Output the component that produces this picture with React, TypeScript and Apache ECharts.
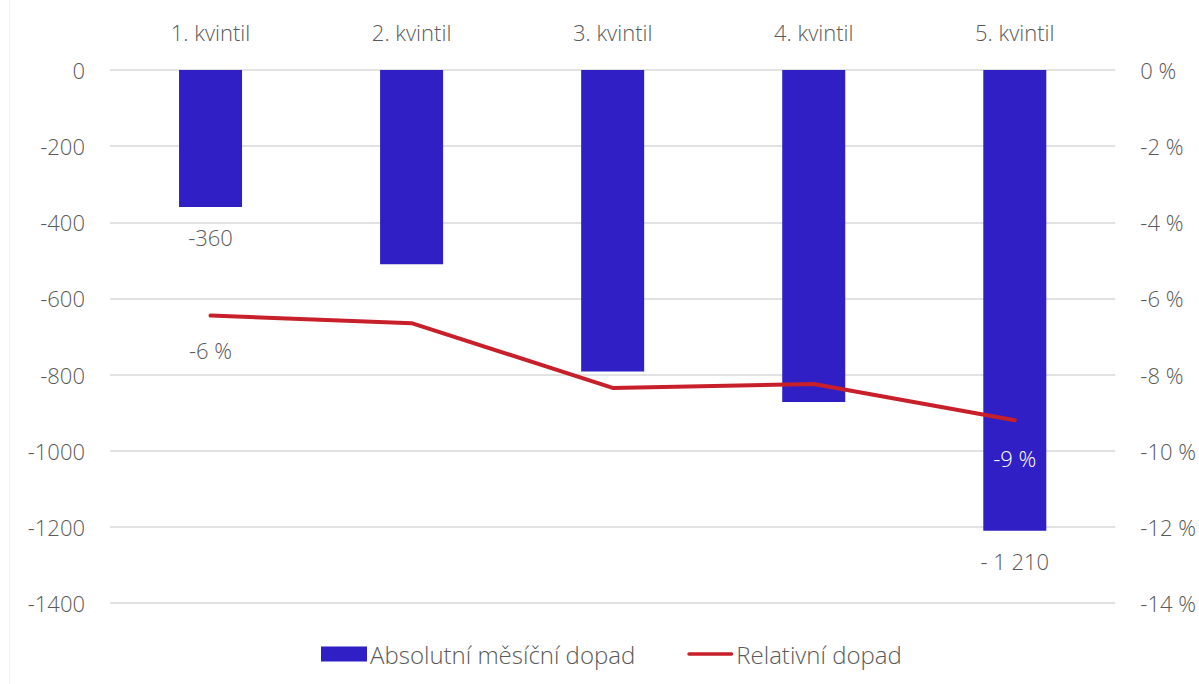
import React, { useEffect, useRef } from "react";
import * as echarts from "echarts";

const categories = ["1. kvintil", "2. kvintil", "3. kvintil", "4. kvintil", "5. kvintil"];
const absoluteValues = [-360, -510, -792, -872, -1210];
const relativeValues = [-6.45, -6.65, -8.35, -8.25, -9.2];
const absoluteLabels = ["-360", "", "", "", "- 1 210"];
const relativeLabels = ["-6 %", "", "", "", "-9 %"];
const seriesNames = ["Absolutní měsíční dopad", "Relativní dopad"];

const FONT = "'Open Sans', sans-serif";
const GRAY = "#5a5a5a";
const FS = 22;

export default function App() {
  const ref = useRef<HTMLDivElement>(null);
  useEffect(() => {
    if (!ref.current) return;
    const chart = echarts.init(ref.current, null, { renderer: "svg" });
    chart.setOption({
      animation: false,
      backgroundColor: "#ffffff",
      textStyle: { fontFamily: FONT, color: GRAY, fontWeight: 300 },
      grid: { left: 110, right: 82, top: 70, bottom: 81 },
      graphic: [
        {
          type: "line",
          shape: { x1: 9.5, y1: 0, x2: 9.5, y2: 684 },
          style: { stroke: "#f0f0f0", lineWidth: 1 },
          silent: true,
        },
      ],
      legend: {
        top: 637,
        left: 316,
        itemWidth: 46,
        itemHeight: 15,
        itemGap: 52,
        textStyle: { fontFamily: FONT, fontSize: 24, fontWeight: 300, color: GRAY, padding: [0, 0, 0, -2] },
        data: [
          { name: seriesNames[0], icon: "rect" },
          { name: seriesNames[1], icon: "path://M2,0 H50 A2,2 0 0 1 50,4 H2 A2,2 0 0 1 2,0 Z" },
        ],
      },
      xAxis: {
        type: "category",
        position: "top",
        data: categories,
        axisLine: { show: false },
        axisTick: { show: false },
        axisLabel: { fontSize: FS, fontWeight: 300, color: GRAY, margin: 27, fontFamily: FONT },
      },
      yAxis: [
        {
          type: "value",
          min: -1400,
          max: 0,
          interval: 200,
          axisLine: { show: false },
          axisTick: { show: false },
          splitLine: { lineStyle: { color: "#d9d9d9", width: 1.5 } },
          axisLabel: {
            fontSize: FS,
            fontWeight: 300,
            color: GRAY,
            margin: 25,
            fontFamily: FONT,
            formatter: (v: number) => String(v),
          },
        },
        {
          type: "value",
          min: -14,
          max: 0,
          interval: 2,
          axisLine: { show: false },
          axisTick: { show: false },
          splitLine: { show: false },
          axisLabel: {
            fontSize: FS,
            fontWeight: 300,
            color: GRAY,
            margin: 25,
            fontFamily: FONT,
            formatter: (v: number) => `${v} %`,
          },
        },
      ],
      series: [
        {
          name: seriesNames[0],
          type: "bar",
          barWidth: 63,
          itemStyle: { color: "#2f1fc4" },
          data: absoluteValues.map((v, i) => ({
            value: v,
            label: {
              show: absoluteLabels[i] !== "",
              position: "bottom",
              distance: 19,
              formatter: absoluteLabels[i],
              fontSize: FS,
              fontWeight: 300,
              color: GRAY,
              fontFamily: FONT,
            },
          })),
        },
        {
          name: seriesNames[1],
          type: "line",
          yAxisIndex: 1,
          symbol: "circle",
          symbolSize: 1,
          showSymbol: true,
          lineStyle: { color: "#c8202a", width: 4, cap: "round" },
          itemStyle: { color: "#c8202a" },
          data: relativeValues.map((v, i) => ({
            value: v,
            label: {
              show: relativeLabels[i] !== "",
              position: "bottom",
              distance: i === 4 ? 26 : 23,
              formatter: relativeLabels[i],
              fontSize: FS,
              fontWeight: 300,
              color: i === 4 ? "#ffffff" : GRAY,
              fontFamily: FONT,
            },
          })),
        },
      ],
    });
    return () => chart.dispose();
  }, []);
  return (
    <div
      ref={ref}
      style={{ position: "fixed", left: 0, top: 0, width: 1199, height: 684 }}
    />
  );
}
